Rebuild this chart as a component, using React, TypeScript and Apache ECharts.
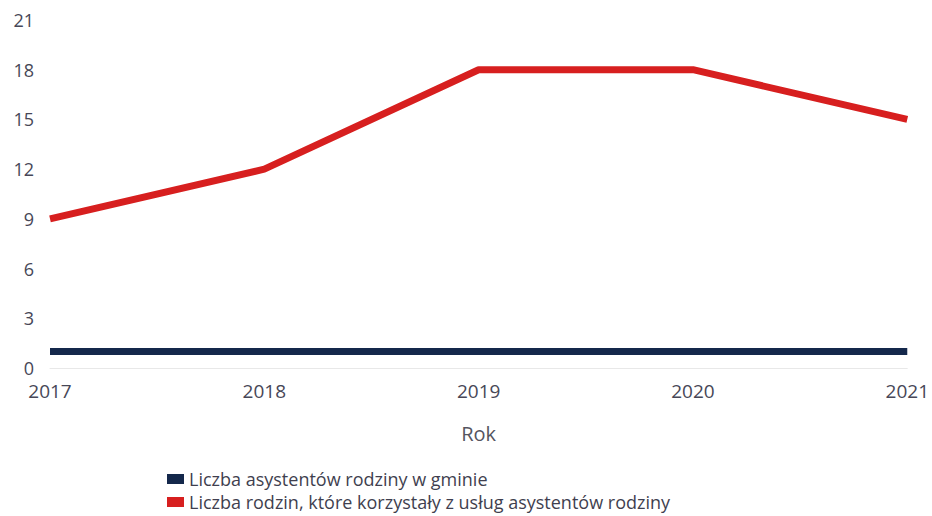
import React, { useEffect, useRef } from "react";
import * as echarts from "echarts";

const years = ["2017", "2018", "2019", "2020", "2021"];
const asystenci = [1, 1, 1, 1, 1];
const rodziny = [9, 12, 18, 18, 15];
const seriesNames = [
  "Liczba asystentów rodziny w gminie",
  "Liczba rodzin, które korzystały z usług asystentów rodziny",
];

export default function App() {
  const ref = useRef<HTMLDivElement>(null);
  useEffect(() => {
    const chart = echarts.init(ref.current!, null, { renderer: "svg" });
    const font = "'Open Sans', 'Noto Sans', sans-serif";
    const txt = "#474757";
    const legendBase = {
      orient: "horizontal",
      left: 162,
      itemWidth: 17,
      itemHeight: 10,
      icon: "rect",
      textStyle: { fontSize: 18, lineHeight: 18, color: "#3f3f4f", fontFamily: font },
    };
    chart.setOption({
      animation: false,
      textStyle: { fontFamily: font },
      grid: { left: 50, right: 22, top: 20, bottom: 148, containLabel: false },
      xAxis: {
        type: "category",
        data: years,
        boundaryGap: false,
        name: "Rok",
        nameLocation: "middle",
        nameGap: 55,
        nameTextStyle: { fontSize: 20, color: "#55555f", fontFamily: font },
        axisLine: { show: true, lineStyle: { color: "#e8e8e8", width: 1 } },
        axisTick: { show: false },
        axisLabel: { fontSize: 19, color: txt, margin: 13, fontFamily: font },
        splitLine: { show: false },
      },
      yAxis: {
        type: "value",
        min: 0,
        max: 21,
        interval: 3,
        axisLine: { show: false },
        axisTick: { show: false },
        axisLabel: { fontSize: 18, color: txt, margin: 16, fontFamily: font },
        splitLine: { show: false },
      },
      legend: [
        { ...legendBase, top: 465, data: [seriesNames[0]] },
        { ...legendBase, top: 488, data: [seriesNames[1]] },
      ],
      series: [
        {
          name: seriesNames[0],
          type: "line",
          data: asystenci,
          symbol: "none",
          lineStyle: { color: "#14284b", width: 7, cap: "butt" },
          itemStyle: { color: "#14284b" },
        },
        {
          name: seriesNames[1],
          type: "line",
          data: rodziny,
          symbol: "none",
          lineStyle: { color: "#d71f1f", width: 7, cap: "butt" },
          itemStyle: { color: "#d71f1f" },
        },
      ],
    });
    return () => chart.dispose();
  }, []);
  return <div ref={ref} style={{ width: 932, height: 516, position: "absolute", left: 0, top: 0 }} />;
}
